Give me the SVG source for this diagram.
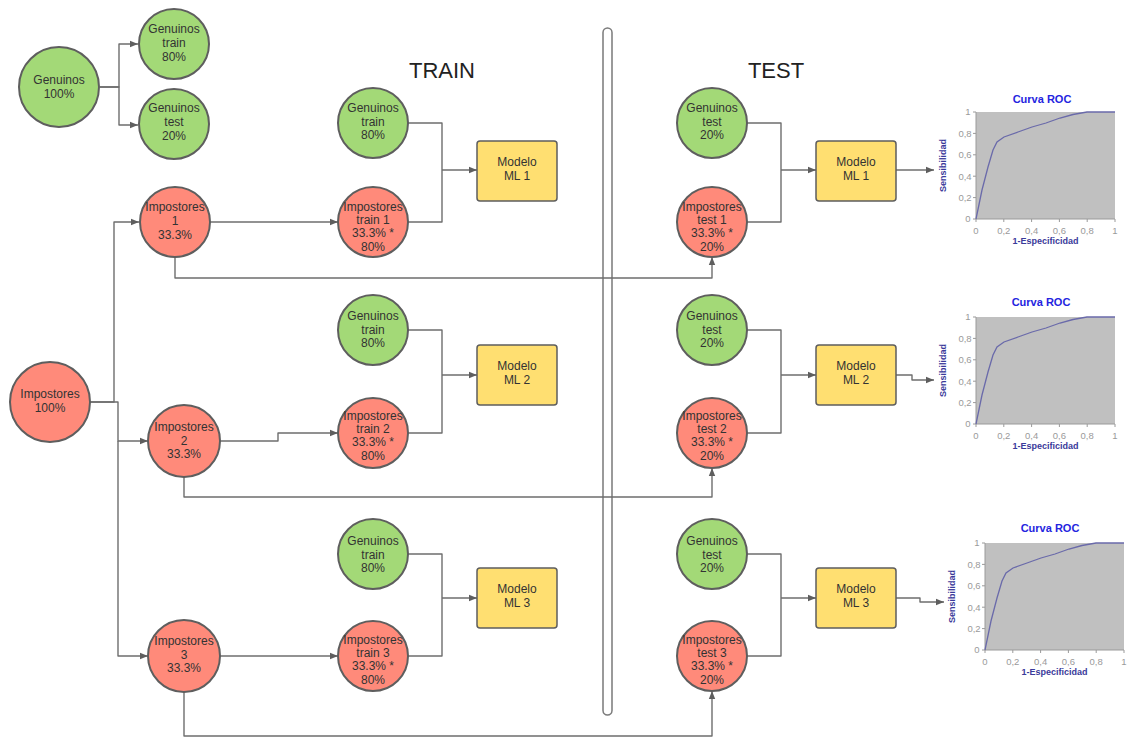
<svg xmlns="http://www.w3.org/2000/svg" width="1127" height="738" viewBox="0 0 1127 738">
  <defs>
    <style>
      .gen { fill: #a3d977; stroke: #5e5e5e; stroke-width: 2; }
      .imp { fill: #ff8a7a; stroke: #5e5e5e; stroke-width: 2; }
      .mod { fill: #ffdf71; stroke: #5e5e5e; stroke-width: 1.5; }
      .lbl { font-family: "Liberation Sans", Arial, sans-serif; font-size: 12px; fill: #333333; text-anchor: middle; }
      .head { font-family: "Liberation Sans", Arial, sans-serif; font-size: 22px; fill: #222222; text-anchor: middle; }
      .conn { fill: none; stroke: #6e6e6e; stroke-width: 1.4; stroke-linejoin: round; }
      .plot { fill: #c0c0c0; }
      .axis { stroke: #9a9a9a; stroke-width: 1; fill: none; }
      .tick { font-family: "Liberation Sans", Arial, sans-serif; font-size: 9.5px; fill: #9a9a9a; text-anchor: middle; }
      .ttl { font-family: "Liberation Sans", Arial, sans-serif; font-size: 11px; font-weight: bold; fill: #2424e0; text-anchor: middle; }
      .axl { font-family: "Liberation Sans", Arial, sans-serif; font-size: 9px; font-weight: bold; fill: #3a3a9a; text-anchor: middle; }
      .curve { fill: none; stroke: #6a6aaa; stroke-width: 1.3; }
    </style>
    <marker id="arr" viewBox="0 0 10 10" refX="10" refY="5" markerWidth="8" markerHeight="8" markerUnits="userSpaceOnUse" orient="auto">
      <path d="M0,1 L10,5 L0,9 z" fill="#5e5e5e"/>
    </marker>
    <!-- one ROC chart, drawn at origin = top-left of plot area (139 x 107) -->
    <g id="roc">
      <rect class="plot" x="0" y="0" width="139" height="107"/>
      <path class="axis" d="M0,0 V107 H139"/>
      <path class="axis" d="M-3,0 H0 M-3,21.4 H0 M-3,42.8 H0 M-3,64.2 H0 M-3,85.6 H0 M-3,107 H0"/>
      <path class="axis" d="M0,107 V110 M27.8,107 V110 M55.6,107 V110 M83.4,107 V110 M111.2,107 V110 M139,107 V110"/>
      <text class="tick" x="-8" y="3">1</text>
      <text class="tick" x="-11" y="24.5">0,8</text>
      <text class="tick" x="-11" y="46">0,6</text>
      <text class="tick" x="-11" y="67.5">0,4</text>
      <text class="tick" x="-11" y="89">0,2</text>
      <text class="tick" x="-8" y="110">0</text>
      <text class="tick" x="0" y="122">0</text>
      <text class="tick" x="27.8" y="122">0,2</text>
      <text class="tick" x="55.6" y="122">0,4</text>
      <text class="tick" x="83.4" y="122">0,6</text>
      <text class="tick" x="111.2" y="122">0,8</text>
      <text class="tick" x="139" y="122">1</text>
      <path class="curve" d="M0,107 L6,78 L12,55 L17,38 L21,30 L28,25 L42,20 L56,15 L70,11 L84,6 L97,2.5 L111,0 L139,0"/>
      <text class="axl" x="69.5" y="132">1-Especificidad</text>
      <text class="axl" transform="translate(-30,53.5) rotate(-90)">Sensibilidad</text>
    </g>
  </defs>

  <rect width="1127" height="738" fill="#ffffff"/>

  <!-- section headings and divider -->
  <text class="head" x="442" y="78">TRAIN</text>
  <text class="head" x="776" y="78">TEST</text>
  <rect x="603" y="28" width="9" height="687" rx="4.5" fill="#ffffff" stroke="#7a7a7a" stroke-width="1.5"/>

  <!-- connectors -->
  <g id="connectors">
    <path class="conn" marker-end="url(#arr)" d="M100,87 H119 V44 H138"/>
    <path class="conn" marker-end="url(#arr)" d="M100,87 H119 V125 H138"/>

    <path class="conn" marker-end="url(#arr)" d="M90,402 H114 V222 H139"/>
    <path class="conn" marker-end="url(#arr)" d="M90,402 H118 V441 H148"/>
    <path class="conn" marker-end="url(#arr)" d="M118,441 V656 H148"/>

    <path class="conn" marker-end="url(#arr)" d="M210,222 H338"/>
    <path class="conn" marker-end="url(#arr)" d="M220,441 H278 V433 H338"/>
    <path class="conn" marker-end="url(#arr)" d="M220,656 H338"/>

    <path class="conn" marker-end="url(#arr)" d="M175,257 V278 H712 V257"/>
    <path class="conn" marker-end="url(#arr)" d="M184,477 V497 H712 V468"/>
    <path class="conn" marker-end="url(#arr)" d="M184,692 V736 H712 V691"/>

    <path class="conn" d="M408,123 H442 V222 H408"/>
    <path class="conn" marker-end="url(#arr)" d="M442,170 H477"/>
    <path class="conn" d="M408,330 H442 V433 H408"/>
    <path class="conn" marker-end="url(#arr)" d="M442,375 H477"/>
    <path class="conn" d="M408,554 H442 V656 H408"/>
    <path class="conn" marker-end="url(#arr)" d="M442,598 H477"/>

    <path class="conn" d="M747,123 H781 V222 H747"/>
    <path class="conn" marker-end="url(#arr)" d="M781,170 H816"/>
    <path class="conn" d="M747,330 H781 V433 H747"/>
    <path class="conn" marker-end="url(#arr)" d="M781,375 H816"/>
    <path class="conn" d="M747,554 H781 V656 H747"/>
    <path class="conn" marker-end="url(#arr)" d="M781,598 H816"/>

    <path class="conn" marker-end="url(#arr)" d="M896,170 H934"/>
    <path class="conn" marker-end="url(#arr)" d="M896,375 H912 V380 H934"/>
    <path class="conn" marker-end="url(#arr)" d="M896,598 H920 V602 H944"/>
  </g>

  <!-- split of the genuine set -->
  <g id="genuinos-100">
    <circle class="gen" cx="59" cy="87" r="40"/>
    <text class="lbl" x="59" y="84">Genuinos</text>
    <text class="lbl" x="59" y="98">100%</text>
  </g>
  <g id="genuinos-train">
    <circle class="gen" cx="174" cy="44" r="35"/>
    <text class="lbl" x="174" y="33">Genuinos</text>
    <text class="lbl" x="174" y="47">train</text>
    <text class="lbl" x="174" y="61">80%</text>
  </g>
  <g id="genuinos-test">
    <circle class="gen" cx="174" cy="124" r="35"/>
    <text class="lbl" x="174" y="112">Genuinos</text>
    <text class="lbl" x="174" y="126">test</text>
    <text class="lbl" x="174" y="140">20%</text>
  </g>

  <!-- split of the impostor set -->
  <g id="impostores-100">
    <circle class="imp" cx="50" cy="402" r="40"/>
    <text class="lbl" x="50" y="398">Impostores</text>
    <text class="lbl" x="50" y="412">100%</text>
  </g>
  <g id="impostores-1">
    <circle class="imp" cx="175" cy="222" r="35"/>
    <text class="lbl" x="175" y="211">Impostores</text>
    <text class="lbl" x="175" y="225">1</text>
    <text class="lbl" x="175" y="239">33.3%</text>
  </g>
  <g id="impostores-2">
    <circle class="imp" cx="184" cy="441" r="36"/>
    <text class="lbl" x="184" y="431">Impostores</text>
    <text class="lbl" x="184" y="445">2</text>
    <text class="lbl" x="184" y="458">33.3%</text>
  </g>
  <g id="impostores-3">
    <circle class="imp" cx="184" cy="656" r="36"/>
    <text class="lbl" x="184" y="645">Impostores</text>
    <text class="lbl" x="184" y="659">3</text>
    <text class="lbl" x="184" y="672">33.3%</text>
  </g>

  <!-- training sets and models -->
  <g id="train-gen-1">
    <circle class="gen" cx="373" cy="123" r="35"/>
    <text class="lbl" x="373" y="112">Genuinos</text>
    <text class="lbl" x="373" y="126">train</text>
    <text class="lbl" x="373" y="139">80%</text>
  </g>
  <g id="train-imp-1">
    <circle class="imp" cx="373" cy="222" r="35"/>
    <text class="lbl" x="373" y="211">Impostores</text>
    <text class="lbl" x="373" y="224">train 1</text>
    <text class="lbl" x="373" y="237">33.3% *</text>
    <text class="lbl" x="373" y="251">80%</text>
  </g>
  <g id="train-model-1">
    <rect class="mod" x="477" y="141" width="80" height="60" rx="3"/>
    <text class="lbl" x="517" y="166">Modelo</text>
    <text class="lbl" x="517" y="180">ML 1</text>
  </g>

  <g id="train-gen-2">
    <circle class="gen" cx="373" cy="330" r="35"/>
    <text class="lbl" x="373" y="320">Genuinos</text>
    <text class="lbl" x="373" y="334">train</text>
    <text class="lbl" x="373" y="347">80%</text>
  </g>
  <g id="train-imp-2">
    <circle class="imp" cx="373" cy="433" r="35"/>
    <text class="lbl" x="373" y="420">Impostores</text>
    <text class="lbl" x="373" y="433">train 2</text>
    <text class="lbl" x="373" y="446">33.3% *</text>
    <text class="lbl" x="373" y="460">80%</text>
  </g>
  <g id="train-model-2">
    <rect class="mod" x="477" y="345" width="80" height="60" rx="3"/>
    <text class="lbl" x="517" y="370">Modelo</text>
    <text class="lbl" x="517" y="384">ML 2</text>
  </g>

  <g id="train-gen-3">
    <circle class="gen" cx="373" cy="554" r="35"/>
    <text class="lbl" x="373" y="545">Genuinos</text>
    <text class="lbl" x="373" y="559">train</text>
    <text class="lbl" x="373" y="572">80%</text>
  </g>
  <g id="train-imp-3">
    <circle class="imp" cx="373" cy="656" r="35"/>
    <text class="lbl" x="373" y="644">Impostores</text>
    <text class="lbl" x="373" y="657">train 3</text>
    <text class="lbl" x="373" y="670">33.3% *</text>
    <text class="lbl" x="373" y="684">80%</text>
  </g>
  <g id="train-model-3">
    <rect class="mod" x="477" y="568" width="80" height="60" rx="3"/>
    <text class="lbl" x="517" y="593">Modelo</text>
    <text class="lbl" x="517" y="607">ML 3</text>
  </g>

  <!-- test sets and models -->
  <g id="test-gen-1">
    <circle class="gen" cx="712" cy="123" r="35"/>
    <text class="lbl" x="712" y="112">Genuinos</text>
    <text class="lbl" x="712" y="126">test</text>
    <text class="lbl" x="712" y="139">20%</text>
  </g>
  <g id="test-imp-1">
    <circle class="imp" cx="712" cy="222" r="35"/>
    <text class="lbl" x="712" y="211">Impostores</text>
    <text class="lbl" x="712" y="224">test 1</text>
    <text class="lbl" x="712" y="237">33.3% *</text>
    <text class="lbl" x="712" y="251">20%</text>
  </g>
  <g id="test-model-1">
    <rect class="mod" x="816" y="141" width="80" height="60" rx="3"/>
    <text class="lbl" x="856" y="166">Modelo</text>
    <text class="lbl" x="856" y="180">ML 1</text>
  </g>

  <g id="test-gen-2">
    <circle class="gen" cx="712" cy="330" r="35"/>
    <text class="lbl" x="712" y="320">Genuinos</text>
    <text class="lbl" x="712" y="334">test</text>
    <text class="lbl" x="712" y="347">20%</text>
  </g>
  <g id="test-imp-2">
    <circle class="imp" cx="712" cy="433" r="35"/>
    <text class="lbl" x="712" y="420">Impostores</text>
    <text class="lbl" x="712" y="433">test 2</text>
    <text class="lbl" x="712" y="446">33.3% *</text>
    <text class="lbl" x="712" y="460">20%</text>
  </g>
  <g id="test-model-2">
    <rect class="mod" x="816" y="345" width="80" height="60" rx="3"/>
    <text class="lbl" x="856" y="370">Modelo</text>
    <text class="lbl" x="856" y="384">ML 2</text>
  </g>

  <g id="test-gen-3">
    <circle class="gen" cx="712" cy="554" r="35"/>
    <text class="lbl" x="712" y="545">Genuinos</text>
    <text class="lbl" x="712" y="559">test</text>
    <text class="lbl" x="712" y="572">20%</text>
  </g>
  <g id="test-imp-3">
    <circle class="imp" cx="712" cy="656" r="35"/>
    <text class="lbl" x="712" y="644">Impostores</text>
    <text class="lbl" x="712" y="657">test 3</text>
    <text class="lbl" x="712" y="670">33.3% *</text>
    <text class="lbl" x="712" y="684">20%</text>
  </g>
  <g id="test-model-3">
    <rect class="mod" x="816" y="568" width="80" height="60" rx="3"/>
    <text class="lbl" x="856" y="593">Modelo</text>
    <text class="lbl" x="856" y="607">ML 3</text>
  </g>

  <!-- ROC curves per model -->
  <g id="roc-1">
    <text class="ttl" x="1042" y="103">Curva ROC</text>
    <use href="#roc" x="976" y="112"/>
  </g>
  <g id="roc-2">
    <text class="ttl" x="1041" y="306">Curva ROC</text>
    <use href="#roc" x="976" y="317"/>
  </g>
  <g id="roc-3">
    <text class="ttl" x="1050" y="532">Curva ROC</text>
    <use href="#roc" x="985" y="543"/>
  </g>
</svg>
